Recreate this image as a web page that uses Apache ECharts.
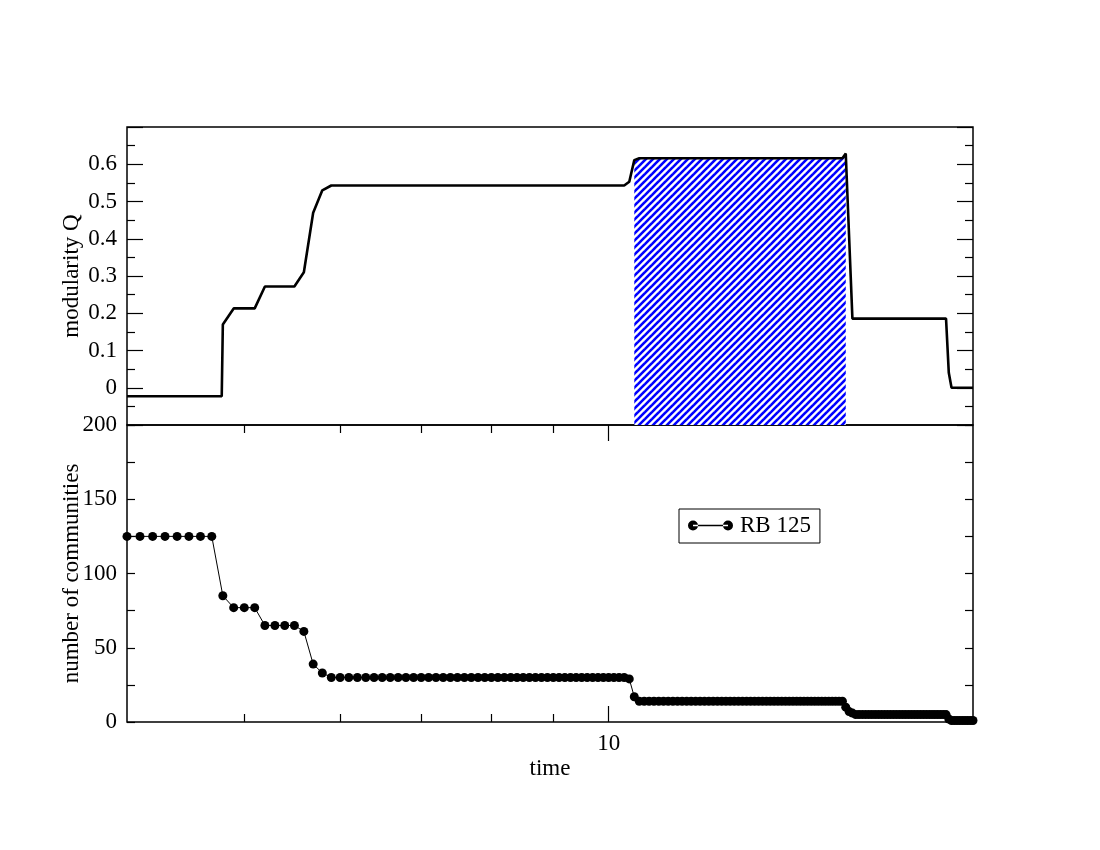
<!DOCTYPE html>
<html>
<head>
<meta charset="utf-8">
<script src="https://cdn.jsdelivr.net/npm/echarts@6/dist/echarts.min.js"></script>
<style>
  html, body { margin: 0; padding: 0; background: #fff; }
  #chart { width: 1100px; height: 850px; }
</style>
</head>
<body>
<div id="chart"></div>
<script>
// time grid of the lower panel (one row per unit of time)
const times = [
  4.0, 4.1, 4.2, 4.3, 4.4, 4.5, 4.6, 4.7, 4.8, 4.9,
  5.0, 5.1, 5.2, 5.3, 5.4, 5.5, 5.6, 5.7, 5.8, 5.9,
  6.0, 6.1, 6.2, 6.3, 6.4, 6.5, 6.6, 6.7, 6.8, 6.9,
  7.0, 7.1, 7.2, 7.3, 7.4, 7.5, 7.6, 7.7, 7.8, 7.9,
  8.0, 8.1, 8.2, 8.3, 8.4, 8.5, 8.6, 8.7, 8.8, 8.9,
  9.0, 9.1, 9.2, 9.3, 9.4, 9.5, 9.6, 9.7, 9.8, 9.9,
  10.0, 10.1, 10.2, 10.3, 10.4, 10.5, 10.6, 10.7, 10.8, 10.9,
  11.0, 11.1, 11.2, 11.3, 11.4, 11.5, 11.6, 11.7, 11.8, 11.9,
  12.0, 12.1, 12.2, 12.3, 12.4, 12.5, 12.6, 12.7, 12.8, 12.9,
  13.0, 13.1, 13.2, 13.3, 13.4, 13.5, 13.6, 13.7, 13.8, 13.9,
  14.0, 14.1, 14.2, 14.3, 14.4, 14.5, 14.6, 14.7, 14.8, 14.9,
  15.0, 15.1, 15.2, 15.3, 15.4, 15.5, 15.6, 15.7, 15.8, 15.9,
  16.0, 16.1, 16.2, 16.3, 16.4, 16.5, 16.6, 16.7, 16.8, 16.9,
  17.0, 17.1, 17.2, 17.3, 17.4, 17.5, 17.6, 17.7, 17.8, 17.9,
  18.0, 18.1, 18.2, 18.3, 18.4, 18.5, 18.6, 18.7, 18.8, 18.9,
  19.0, 19.1, 19.2, 19.3, 19.4, 19.5, 19.6, 19.7, 19.8, 19.9,
  20.0
];

// number of communities, same rows as times
const communities = [
  125, 125, 125, 125, 125, 125, 125, 125, 85, 77,
  77, 77, 65, 65, 65, 65, 61, 39, 33, 30,
  30, 30, 30, 30, 30, 30, 30, 30, 30, 30,
  30, 30, 30, 30, 30, 30, 30, 30, 30, 30,
  30, 30, 30, 30, 30, 30, 30, 30, 30, 30,
  30, 30, 30, 30, 30, 30, 30, 30, 30, 30,
  30, 30, 30, 30, 29, 17, 14, 14, 14, 14,
  14, 14, 14, 14, 14, 14, 14, 14, 14, 14,
  14, 14, 14, 14, 14, 14, 14, 14, 14, 14,
  14, 14, 14, 14, 14, 14, 14, 14, 14, 14,
  14, 14, 14, 14, 14, 14, 14, 14, 14, 14,
  14, 14, 14, 14, 14, 14, 14, 10, 7, 6,
  5, 5, 5, 5, 5, 5, 5, 5, 5, 5,
  5, 5, 5, 5, 5, 5, 5, 5, 5, 5,
  5, 5, 5, 5, 5, 5, 5, 5, 5, 5,
  5, 2, 1, 1, 1, 1, 1, 1, 1, 1,
  1
];

// modularity Q, read at its corners
const qTimes  = [4.0, 4.79, 4.8, 4.9, 5.1, 5.2, 5.5, 5.6, 5.7, 5.8, 5.9, 10.3, 10.4, 10.5, 10.6, 15.6, 15.7, 15.9, 19.0, 19.1, 19.2, 20.0];
const qValues = [-0.023, -0.023, 0.17, 0.213, 0.213, 0.272, 0.272, 0.31, 0.47, 0.53, 0.543, 0.543, 0.553, 0.611, 0.616, 0.616, 0.629, 0.1855, 0.1855, 0.04, 0, 0];

// hatched stretch of the Q curve
const hatchFrom = 10.5;
const hatchTo = 15.7;

const minorTimes = [5, 6, 7, 8, 9];
const majorTimes = [10];

const font = "'Liberation Serif', 'Times New Roman', serif";
const fs = 23;

function makeHatch() {
  const c = document.createElement('canvas');
  c.width = 7; c.height = 7;
  const g = c.getContext('2d');
  g.fillStyle = '#fff';
  g.fillRect(0, 0, 7, 7);
  g.strokeStyle = '#0000ff';
  g.lineWidth = 2.6;
  for (const k of [-7, 0, 7]) {
    g.beginPath();
    g.moveTo(k - 1, 8);
    g.lineTo(k + 8, -1);
    g.stroke();
  }
  return c;
}

const qData = qTimes.map((t, i) => [t, qValues[i]]);
const hatchData = qData.filter(d => d[0] >= hatchFrom && d[0] <= hatchTo);
const nData = times.map((t, i) => [t, communities[i]]);

function logX(grid, pos, ticks, len, labels) {
  return {
    type: 'log', logBase: 10, min: 4, max: 20, gridIndex: grid, position: pos,
    axisLine: { show: false },
    axisTick: { show: ticks != null, inside: true, length: len, customValues: ticks || undefined,
      lineStyle: { color: '#000', width: 1.2 } },
    axisLabel: labels ? { show: true, customValues: labels, color: '#000', fontFamily: font, fontSize: fs, margin: 10,
      formatter: v => String(Math.round(v)) } : { show: false },
    splitLine: { show: false },
    minorTick: { show: false },
    minorSplitLine: { show: false }
  };
}

function valueY(grid, pos, min, max, step, tickLen, name, labelFmt) {
  const ax = {
    type: 'value', gridIndex: grid, position: pos, min: min, max: max, interval: step,
    axisLine: { show: false },
    axisTick: { inside: true, length: tickLen, lineStyle: { color: '#000', width: 1.2 } },
    minorTick: { show: true, splitNumber: 2, length: 8, lineStyle: { color: '#000', width: 1.2 } },
    axisLabel: { show: false },
    splitLine: { show: false }
  };
  if (name) {
    ax.name = name;
    ax.nameLocation = 'middle';
    ax.nameGap = 44;
    ax.nameMoveOverlap = false;
    ax.nameTextStyle = { color: '#000', fontFamily: font, fontSize: fs };
    ax.axisLabel = { show: true, color: '#000', fontFamily: font, fontSize: fs, margin: 10, formatter: labelFmt };
  }
  return ax;
}

const chart = echarts.init(document.getElementById('chart'));
chart.setOption({
  animation: false,
  backgroundColor: '#fff',
  textStyle: { fontFamily: font },
  grid: [
    { left: 127, top: 127, width: 846, height: 298, show: true, borderColor: '#000', borderWidth: 1.5, backgroundColor: 'transparent' },
    { left: 127, top: 425, width: 846, height: 297, show: true, borderColor: '#000', borderWidth: 1.5, backgroundColor: 'transparent' }
  ],
  legend: {
    data: ['RB 125'],
    left: 679, top: 509,
    padding: [5, 9, 6, 9],
    backgroundColor: '#fff',
    borderColor: '#000', borderWidth: 1, borderRadius: 0,
    itemWidth: 45, itemHeight: 10,
    icon: 'path://M0,5a5,5 0 1,0 10,0a5,5 0 1,0 -10,0ZM35,5a5,5 0 1,0 10,0a5,5 0 1,0 -10,0ZM5,4.3L40,4.3L40,5.7L5,5.7Z',
    textStyle: { color: '#000', fontFamily: font, fontSize: fs, padding: [0, 0, 0, 2] }
  },
  xAxis: [
    logX(0, 'bottom', null, 0, null),
    Object.assign(logX(1, 'bottom', minorTimes, 8, null), {
      name: 'time', nameLocation: 'middle', nameGap: 35, nameMoveOverlap: false,
      nameTextStyle: { color: '#000', fontFamily: font, fontSize: fs }
    }),
    logX(1, 'bottom', majorTimes, 16, majorTimes),
    logX(1, 'top', minorTimes, 8, null),
    logX(1, 'top', majorTimes, 16, null)
  ],
  yAxis: [
    valueY(0, 'left', -0.1, 0.7, 0.1, 16, 'modularity Q',
      v => (v < -0.05 || v > 0.65) ? '' : String(Math.round(v * 10) / 10)),
    valueY(0, 'right', -0.1, 0.7, 0.1, 16, null),
    valueY(1, 'left', 0, 200, 50, 8, 'number of communities', v => String(v)),
    valueY(1, 'right', 0, 200, 50, 8, null)
  ],
  series: [
    {
      name: 'hatch', type: 'line', xAxisIndex: 0, yAxisIndex: 0,
      data: hatchData, symbol: 'none', silent: true,
      lineStyle: { width: 0 },
      areaStyle: { color: { image: makeHatch(), repeat: 'repeat' }, opacity: 1, origin: 'start' },
      z: 1
    },
    {
      name: 'Q', type: 'line', xAxisIndex: 0, yAxisIndex: 0,
      data: qData, symbol: 'none',
      lineStyle: { color: '#000', width: 2.6 },
      z: 3
    },
    {
      name: 'RB 125', type: 'line', xAxisIndex: 1, yAxisIndex: 2,
      data: nData, symbol: 'circle', symbolSize: 9, clip: false,
      itemStyle: { color: '#000' },
      lineStyle: { color: '#000', width: 1 },
      z: 3
    }
  ]
});
</script>
</body>
</html>
